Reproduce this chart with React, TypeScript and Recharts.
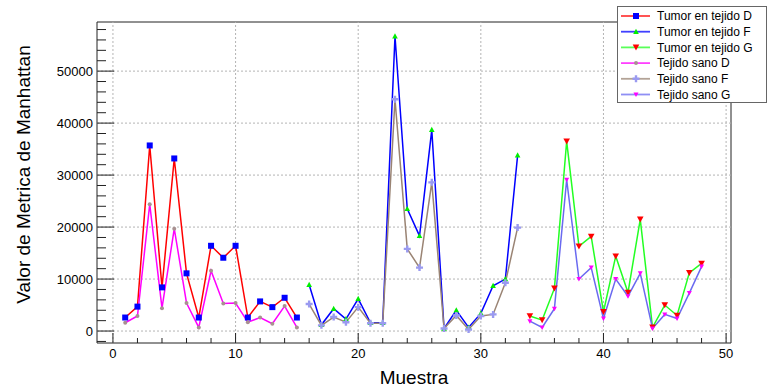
import React from 'react';
import { LineChart, Line, XAxis, YAxis, ReferenceLine, ReferenceArea, Legend } from 'recharts';

// sample numbers per tissue group
const muestrasD = [1, 2, 3, 4, 5, 6, 7, 8, 9, 10, 11, 12, 13, 14, 15];
const muestrasF = [16, 17, 18, 19, 20, 21, 22, 23, 24, 25, 26, 27, 28, 29, 30, 31, 32, 33];
const muestrasG = [34, 35, 36, 37, 38, 39, 40, 41, 42, 43, 44, 45, 46, 47, 48];

// Manhattan metric values
const tumorD = [2600, 4700, 35700, 8400, 33200, 11100, 2600, 16400, 14100, 16400, 2600, 5700, 4600, 6400, 2600];
const sanoD = [1600, 2900, 24400, 4400, 19700, 5400, 700, 11600, 5300, 5400, 1700, 2600, 1400, 4800, 700];
const tumorF = [8900, 1200, 4300, 2300, 6200, 1600, 1600, 56700, 23500, 18300, 38700, 500, 4000, 700, 3400, 8700, 10000, 33800];
const sanoF = [5200, 1100, 2700, 1700, 4600, 1500, 1500, 44600, 15800, 12200, 28600, 500, 3000, 300, 2900, 3200, 9300, 19900];
const tumorG = [2900, 2100, 8200, 36500, 16300, 18200, 3700, 14400, 7400, 21500, 700, 5000, 3000, 11200, 13000];
const sanoG = [1900, 700, 4300, 29100, 10000, 12200, 2400, 10000, 6700, 11100, 500, 3200, 2400, 7300, 12400];

// axis ticks (major ones get labels and grid lines)
const xTicks = [0, 2, 4, 6, 8, 10, 12, 14, 16, 18, 20, 22, 24, 26, 28, 30, 32, 34, 36, 38, 40, 42, 44, 46, 48, 50];
const xMajor = [0, 10, 20, 30, 40, 50];
const yTicks = [-2000, 0, 2000, 4000, 6000, 8000, 10000, 12000, 14000, 16000, 18000, 20000, 22000, 24000, 26000, 28000,
  30000, 32000, 34000, 36000, 38000, 40000, 42000, 44000, 46000, 48000, 50000, 52000, 54000, 56000, 58000];
const yMajor = [0, 10000, 20000, 30000, 40000, 50000];

const X_DOMAIN: [number, number] = [-1.3, 50.4];
const Y_DOMAIN: [number, number] = [-2300, 59450];
const FONT = '"Liberation Sans", Arial, Helvetica, sans-serif';

const toPoints = (xs: number[], ys: number[]) => xs.map((x, i) => ({ x, v: ys[i] }));

type MarkerKind = 'square' | 'tri' | 'triDown' | 'dot' | 'cross' | 'triDownSmall';

const Marker = ({ kind, cx, cy, color }: { kind: MarkerKind; cx: number; cy: number; color: string }) => {
  if (cx == null || cy == null) return null;
  switch (kind) {
    case 'square':
      return <rect x={cx - 3} y={cy - 3} width={6} height={6} fill={color} />;
    case 'tri':
      return <polygon points={`${cx},${cy - 3} ${cx + 2.8},${cy + 2.2} ${cx - 2.8},${cy + 2.2}`} fill={color} />;
    case 'triDown':
      return <polygon points={`${cx - 3.3},${cy - 2.8} ${cx + 3.3},${cy - 2.8} ${cx},${cy + 3.2}`} fill={color} />;
    case 'triDownSmall':
      return <polygon points={`${cx - 2.5},${cy - 2} ${cx + 2.5},${cy - 2} ${cx},${cy + 2.5}`} fill={color} />;
    case 'cross': {
      const a = 3.5, t = 1.2;
      return (
        <polygon
          points={`${cx - t},${cy - a} ${cx + t},${cy - a} ${cx + t},${cy - t} ${cx + a},${cy - t} ${cx + a},${cy + t} ${cx + t},${cy + t} ${cx + t},${cy + a} ${cx - t},${cy + a} ${cx - t},${cy + t} ${cx - a},${cy + t} ${cx - a},${cy - t} ${cx - t},${cy - t}`}
          fill={color}
        />
      );
    }
    default:
      return <circle cx={cx} cy={cy} r={2} fill={color} />;
  }
};

const series = [
  { name: 'Tumor en tejido D', data: toPoints(muestrasD, tumorD), line: '#ff0000', marker: '#0000ff', kind: 'square' as MarkerKind },
  { name: 'Tumor en tejido F', data: toPoints(muestrasF, tumorF), line: '#0000ff', marker: '#00ee00', kind: 'tri' as MarkerKind },
  { name: 'Tumor en tejido G', data: toPoints(muestrasG, tumorG), line: '#22ff22', marker: '#ff0000', kind: 'triDown' as MarkerKind },
  { name: 'Tejido sano D', data: toPoints(muestrasD, sanoD), line: '#ff00ff', marker: '#a89090', kind: 'dot' as MarkerKind },
  { name: 'Tejido sano F', data: toPoints(muestrasF, sanoF), line: '#9a8474', marker: '#9a9af0', kind: 'cross' as MarkerKind },
  { name: 'Tejido sano G', data: toPoints(muestrasG, sanoG), line: '#6a6af0', marker: '#ff00ff', kind: 'triDownSmall' as MarkerKind },
];

const XTick = ({ x, y, payload }: any) => {
  const major = xMajor.includes(payload.value);
  return (
    <g>
      <line x1={x} y1={y} x2={x} y2={y - (major ? 10 : 5)} stroke="#222" strokeWidth={1} />
      {major && (
        <text x={x} y={y + 15} textAnchor="middle" fontSize={13} fontFamily={FONT} fill="#000">
          {payload.value}
        </text>
      )}
    </g>
  );
};

const YTick = ({ x, y, payload }: any) => {
  const major = yMajor.includes(payload.value);
  return (
    <g>
      <line x1={x} y1={y} x2={x + (major ? 17 : 9)} y2={y} stroke="#222" strokeWidth={1} />
      {major && (
        <text x={x - 4} y={y + 4.5} textAnchor="end" fontSize={13} fontFamily={FONT} fill="#000">
          {payload.value}
        </text>
      )}
    </g>
  );
};

const renderLegend = () => (
  <div style={{ width: 150, height: 97, background: '#fff', border: '1px solid #666', boxSizing: 'border-box' }}>
    <svg width={148} height={95} style={{ overflow: 'visible' }}>
      {series.map((s, i) => {
        const cy = 9 + i * 15.7;
        return (
          <g key={s.name}>
            <line x1={3} y1={cy} x2={32} y2={cy} stroke={s.line} strokeWidth={1.8} strokeOpacity={0.75} />
            <Marker kind={s.kind} cx={18} cy={cy} color={s.marker} />
            <text x={39} y={cy + 4.3} fontSize={12} fontFamily={FONT} fill="#000">{s.name}</text>
          </g>
        );
      })}
    </svg>
  </div>
);

export default function App() {
  return (
    <div style={{ position: 'absolute', left: 0, top: 0, width: 768, height: 388, background: '#fff' }}>
      <LineChart width={768} height={388} margin={{ top: 22, right: 37, bottom: 15, left: 37 }}>
        {xMajor.map((v) => (
          <ReferenceLine key={`gx${v}`} x={v} stroke="#b4b4b4" strokeDasharray="2 2" />
        ))}
        {yMajor.map((v) => (
          <ReferenceLine key={`gy${v}`} y={v} stroke="#b4b4b4" strokeDasharray="2 2" />
        ))}
        <XAxis
          type="number"
          dataKey="x"
          domain={X_DOMAIN}
          allowDataOverflow
          ticks={xTicks}
          interval={0}
          tick={(p: any) => <XTick {...p} />}
          tickLine={false}
          axisLine={false}
          tickSize={0}
          tickMargin={0}
          height={30}
          label={{
            content: ({ viewBox }: any) => (
              <text x={viewBox.x + viewBox.width / 2} y={viewBox.y + 41} textAnchor="middle" fontSize={19} fontFamily={FONT} fill="#000">
                Muestra
              </text>
            ),
          }}
        />
        <YAxis
          type="number"
          domain={Y_DOMAIN}
          allowDataOverflow
          ticks={yTicks}
          interval={0}
          tick={(p: any) => <YTick {...p} />}
          tickLine={false}
          axisLine={false}
          tickSize={0}
          tickMargin={0}
          width={60}
          label={{
            content: ({ viewBox }: any) => {
              const cx = viewBox.x - 14;
              const cy = viewBox.y + viewBox.height / 2 - 8;
              return (
                <text x={cx} y={cy} transform={`rotate(-90 ${cx} ${cy})`} textAnchor="middle" dominantBaseline="central" fontSize={19} fontFamily={FONT} fill="#000">
                  Valor de Metrica de Manhattan
                </text>
              );
            },
          }}
        />
        {series.map((s) => (
          <Line
            key={s.name}
            name={s.name}
            data={s.data}
            dataKey="v"
            type="linear"
            stroke={s.line}
            strokeWidth={1.5}
            dot={(p: any) => <Marker key={`${s.name}-${p.index}`} kind={s.kind} cx={p.cx} cy={p.cy} color={s.marker} />}
            activeDot={false}
            isAnimationActive={false}
          />
        ))}
        <ReferenceArea x1={X_DOMAIN[0]} x2={X_DOMAIN[1]} y1={Y_DOMAIN[0]} y2={Y_DOMAIN[1]} fill="none" fillOpacity={0} stroke="#222" strokeWidth={1} />
        <Legend
          layout="vertical"
          align="center"
          verticalAlign="middle"
          content={renderLegend}
          wrapperStyle={{ left: 617, top: 6, width: 150, height: 97 }}
        />
      </LineChart>
    </div>
  );
}
